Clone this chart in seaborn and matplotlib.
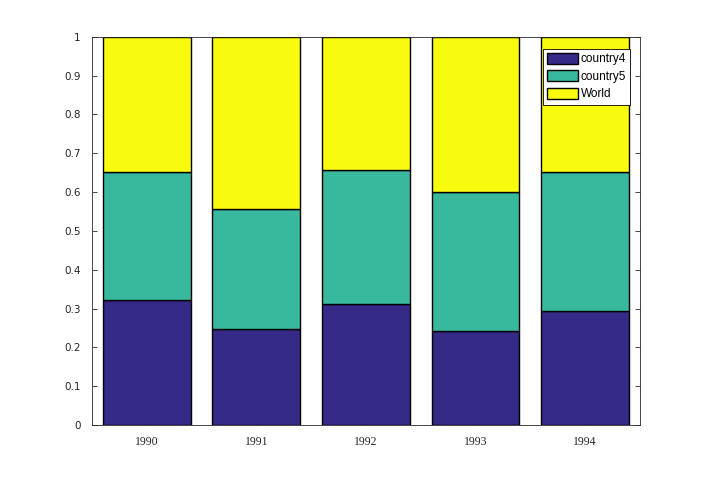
import pandas as pd
import matplotlib
matplotlib.use('Agg')
import matplotlib.pyplot as plt
import seaborn as sns
from matplotlib.patches import Patch

# данные (доли)
years = ['1990', '1991', '1992', '1993', '1994']
country4 = [0.322, 0.247, 0.312, 0.242, 0.293]
country5 = [0.330, 0.310, 0.345, 0.358, 0.358]
world = [0.348, 0.443, 0.343, 0.400, 0.349]

names = ['country4', 'country5', 'World']
colors = ['#352a87', '#38b99e', '#f9fb0e']
yticks = [0, 0.1, 0.2, 0.3, 0.4, 0.5, 0.6, 0.7, 0.8, 0.9, 1]
ytick_labels = ['0', '0.1', '0.2', '0.3', '0.4', '0.5', '0.6', '0.7', '0.8', '0.9', '1']

sns.set_style('white')

fig = plt.figure(figsize=(7.07, 4.78), dpi=100)
ax = fig.add_axes([0.130, 0.111, 0.775, 0.812])

bottom = [0.0] * len(years)
for name, vals, c in zip(names, [country4, country5, world], colors):
    df = pd.DataFrame({'year': years, 'val': vals})
    sns.barplot(data=df, x='year', y='val', color=c, bottom=bottom, width=0.8,
                edgecolor='black', linewidth=1.0, saturation=1, ax=ax, errorbar=None)
    bottom = [b + v for b, v in zip(bottom, vals)]

ax.set_xlim(-0.5, 4.5)
ax.set_ylim(0, 1)
ax.set_yticks(yticks)
ax.set_yticklabels(ytick_labels, fontsize=7.5, family='DejaVu Sans', color='#262626')
ax.set_xticks(range(len(years)))
ax.set_xticklabels(years, fontsize=8.5, family='Liberation Serif', color='#262626')
ax.set_xlabel('')
ax.set_ylabel('')
ax.tick_params(direction='in', length=3.5, width=0.6, top=True, right=True,
               bottom=True, left=True, pad=8, colors='#262626')
for s in ax.spines.values():
    s.set_visible(True)
    s.set_color('#262626')
    s.set_linewidth(0.6)

handles = [Patch(facecolor=c, edgecolor='black', linewidth=1.0, label=n)
           for n, c in zip(names, colors)]
leg = ax.legend(handles=handles, loc='upper right', bbox_to_anchor=(0.982, 0.969),
                prop={'family': 'Liberation Sans', 'size': 8.5},
                frameon=True, fancybox=False, edgecolor='black', framealpha=1,
                handlelength=2.6, handleheight=1.05, handletextpad=0.25,
                borderpad=0.35, labelspacing=0.42, borderaxespad=0)
leg.get_frame().set_linewidth(0.6)
for t in leg.get_texts():
    t.set_color('black')

fig.savefig('out.png', dpi=100)
